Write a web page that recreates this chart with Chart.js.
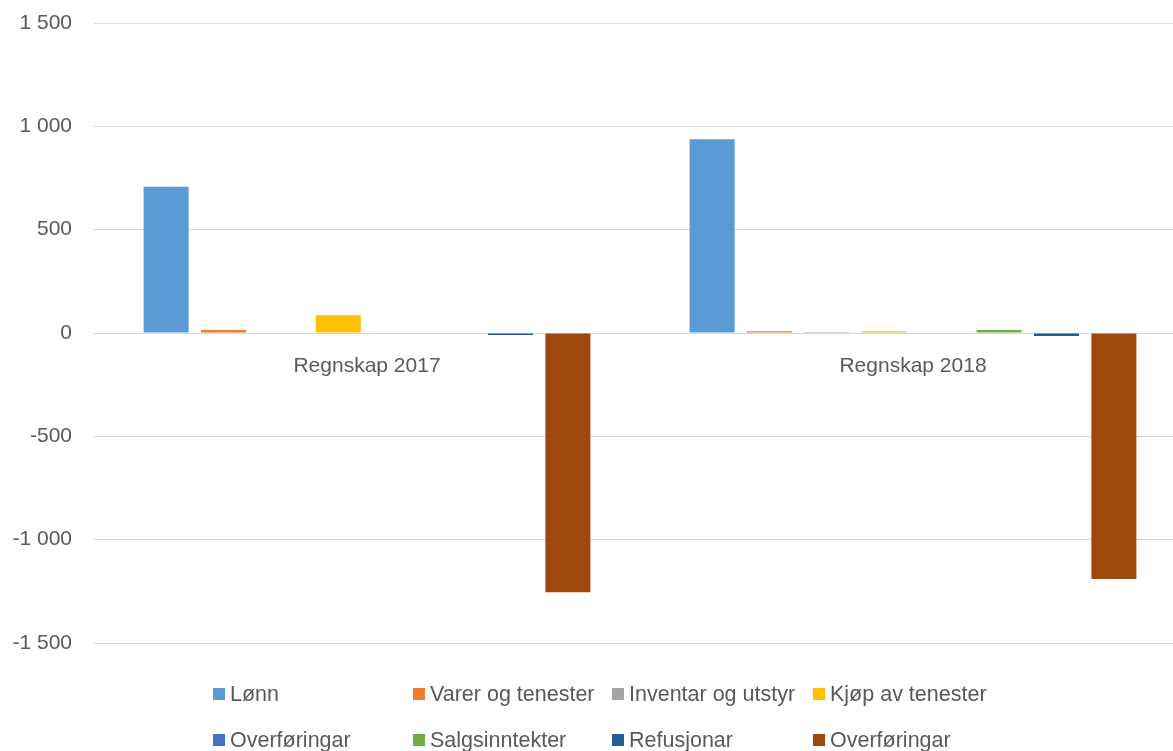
<!DOCTYPE html>
<html><head><meta charset="utf-8">
<script src="https://cdn.jsdelivr.net/npm/chart.js@4.4.1/dist/chart.umd.min.js"></script>
<style>html,body{margin:0;padding:0;background:#fff;overflow:hidden;width:1173px;height:751px;}#wrap{width:1186px;height:751px;}</style>
</head><body><div id="wrap"><canvas id="c" width="1186" height="751"></canvas></div>
<script>
const categories = ["Regnskap 2017", "Regnskap 2018"];
const seriesNames = ["Lønn", "Varer og tenester", "Inventar og utstyr", "Kjøp av tenester", "Overføringar", "Salgsinntekter", "Refusjonar", "Overføringar"];
const seriesColors = ["#5B9BD5", "#ED7D31", "#A5A5A5", "#FFC000", "#4472C4", "#70AD47", "#255E91", "#9E480E"];
const lonn = [708, 938];
const varer = [15, 8];
const inventar = [0, 5];
const kjop = [86, 8];
const overforingarA = [0, 0];
const salgsinntekter = [0, 15];
const refusjonar = [-10, -15];
const overforingarB = [-1255, -1190];
const yTicks = [-1500, -1000, -500, 0, 500, 1000, 1500];

const seriesValues = [lonn, varer, inventar, kjop, overforingarA, salgsinntekter, refusjonar, overforingarB];
const FONT = "'Liberation Sans', Arial, sans-serif";
const TXT = "#595959";

function fmt(v){
  const s = Math.abs(v).toString().replace(/\B(?=(\d{3})+(?!\d))/g, " ");
  return (v < 0 ? "-" : "") + s;
}

const legendPlugin = {
  id: "gridLegend",
  afterDraw(chart){
    const ctx = chart.ctx;
    const cols = [213, 413, 612, 813];
    const rows = [694, 740];
    ctx.save();
    ctx.font = "21.5px " + FONT;
    ctx.textBaseline = "middle";
    ctx.textAlign = "left";
    chart.data.datasets.forEach((ds, i) => {
      const x = cols[i % 4], y = rows[Math.floor(i / 4)];
      ctx.fillStyle = ds.backgroundColor;
      ctx.fillRect(x, y - 6, 12, 12);
      ctx.fillStyle = TXT;
      ctx.fillText(ds.label, x + 17, y + 1);
    });
    ctx.restore();
  }
};

new Chart(document.getElementById("c"), {
  type: "bar",
  data: {
    labels: categories,
    datasets: seriesNames.map((n, i) => ({
      label: n,
      data: seriesValues[i],
      backgroundColor: seriesColors[i],
      borderWidth: 0,
      categoryPercentage: 0.841,
      barPercentage: 0.784
    }))
  },
  options: {
    responsive: false,
    animation: false,
    layout: { padding: { top: 23, right: 0, bottom: 108, left: 0 } },
    plugins: { legend: { display: false }, tooltip: { enabled: false } },
    scales: {
      x: {
        position: { y: 0 },
        afterFit(scale){ scale.height = 0; scale.paddingLeft = 0; scale.paddingRight = 0; },
        grid: { display: false, drawTicks: false },
        border: { display: false },
        ticks: { color: TXT, font: { family: FONT, size: 21 }, padding: 21 }
      },
      y: {
        min: -1500, max: 1500,
        afterBuildTicks(scale){ scale.ticks = yTicks.map(v => ({ value: v })); },
        afterFit(scale){ scale.width = 94; scale.paddingTop = 0; scale.paddingBottom = 0; },
        grid: { color: "#D9D9D9", lineWidth: 1, drawTicks: false },
        border: { display: false },
        ticks: { color: TXT, font: { family: FONT, size: 21 }, padding: 22, callback: v => fmt(v) }
      }
    }
  },
  plugins: [legendPlugin]
});
</script></body></html>
